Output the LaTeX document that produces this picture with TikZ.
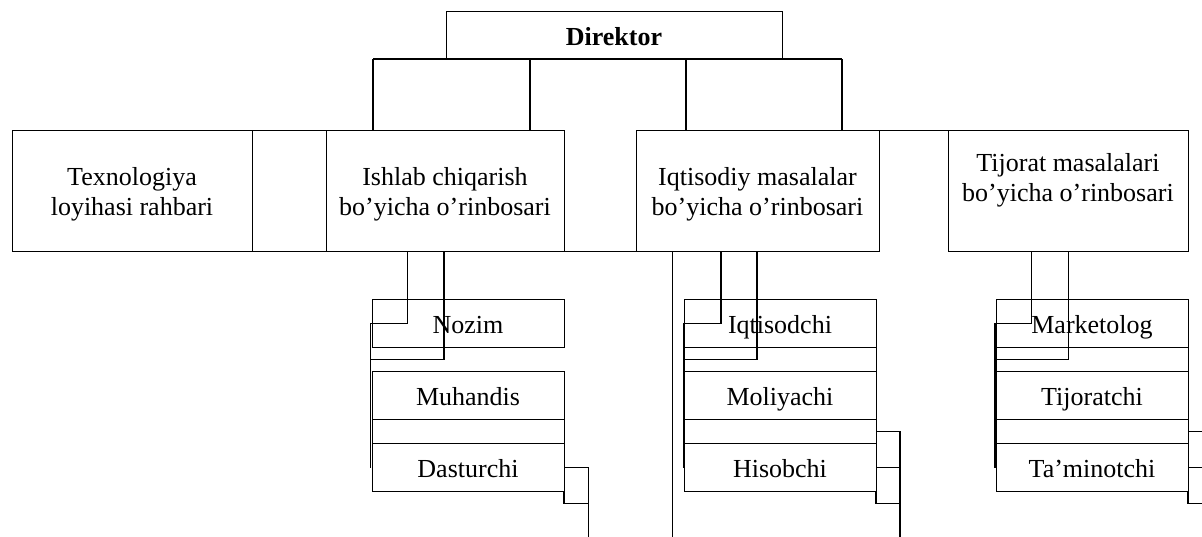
\documentclass[tikz,border=0pt]{standalone}
\usepackage{fontspec}
\setmainfont{Liberation Serif}
\begin{document}
\begin{tikzpicture}[x=1pt,y=-1pt,
  every node/.append style={font=\fontsize{26}{30}\selectfont},
  box/.style={draw, line width=1pt, inner sep=0pt, outer sep=0pt},
  head/.style={box, minimum height=121pt},
  sub/.style={box, minimum width=192pt, minimum height=48pt, text height=20pt, text depth=0pt},
  strip/.style={box, minimum width=192pt, minimum height=24pt},
  caption/.style={align=center, inner sep=0pt},
  wire/.style={line width=1.5pt}
]
\useasboundingbox (0,0) rectangle (1202,536);
\clip (0,0) rectangle (1202,536);

% director
\node[box, minimum width=336pt, minimum height=48pt, text height=20pt, text depth=0pt,
      font=\fontsize{26}{30}\selectfont\bfseries] (dir) at (614,35) {Direktor};

% row of deputies
\node[head, minimum width=240pt] (tex) at (132,190.5) {};
\node[head, minimum width=74pt]  (gap) at (289,190.5) {};
\node[head, minimum width=238pt] (ish) at (445,190.5) {};
\node[head, minimum width=243pt] (iqt) at (757.5,190.5) {};
\node[head, minimum width=240pt] (tij) at (1068,190.5) {};

\node[caption] (tex-c) at ([yshift=-4pt]tex.center) {Texnologiya\\loyihasi rahbari};
\node[caption] (ish-c) at ([yshift=-4pt]ish.center) {Ishlab chiqarish\\bo’yicha o’rinbosari};
\node[caption] (iqt-c) at ([yshift=-4pt]iqt.center) {Iqtisodiy masalalar\\bo’yicha o’rinbosari};
\node[caption] (tij-c) at ([yshift=10pt]tij.center) {Tijorat masalalari\\bo’yicha o’rinbosari};

\draw[box] (ish.south east) -- (iqt.south west);
\draw[box] (iqt.north east) -- (tij.north west);

% bus under the director
\coordinate (b1) at (373,59);
\coordinate (b2) at (530,59);
\coordinate (b3) at (686,59);
\coordinate (b4) at (842,59);
\draw[wire] (b1) -- (b4);
\foreach \b/\t in {b1/ish, b2/ish, b3/iqt, b4/iqt}
  \draw[wire] (\b) -- (\b |- \t.north);

% production staff
\node[sub] (noz) at (468,323) {Nozim};
\node[sub] (muh) at (468,395.5) {Muhandis};
\node[strip] (s-md) at (468,431.3) {};
\node[sub] (das) at (468,467.5) {Dasturchi};

% economics staff
\node[sub] (iqc) at (780,323) {Iqtisodchi};
\node[strip] (s-im) at (780,359.3) {};
\node[sub] (mol) at (780,395.5) {Moliyachi};
\node[strip] (s-mh) at (780,431.3) {};
\node[sub] (his) at (780,467.5) {Hisobchi};

% commerce staff
\node[sub] (mar) at (1092,323) {Marketolog};
\node[strip] (s-mt) at (1092,359.3) {};
\node[sub] (tjr) at (1092,395.5) {Tijoratchi};
\node[strip] (s-tt) at (1092,431.3) {};
\node[sub] (tam) at (1092,467.5) {Ta’minotchi};

% links from the production deputy
\coordinate (ia) at (407.7,323.3);
\coordinate (ib) at (444,359.3);
\coordinate (ic) at (370.7,323.3);
\coordinate (id) at (370.7,359.3);
\coordinate (ie) at (370.7,467.7);
\draw[wire] (ia |- ish.south) -- (ia) -- (ic) -- (ie);
\draw[wire] (ib |- ish.south) -- (ib) -- (id);

% links from the economics deputy
\coordinate (qa) at (721,323.3);
\coordinate (qb) at (757,359.3);
\coordinate (qc) at (684,323.3);
\coordinate (qd) at (684,359.3);
\coordinate (qe) at (684,467.7);
\draw[wire] (qa |- iqt.south) -- (qa) -- (qc) -- (qe);
\draw[wire] (qb |- iqt.south) -- (qb) -- (qd);
\coordinate (qv) at (672.3,545);
\draw[wire] (qv |- iqt.south) -- (qv);

% links from the commerce deputy
\coordinate (ta) at (1031.7,323.3);
\coordinate (tb) at (1068.3,359.3);
\coordinate (tc) at (995,323.3);
\coordinate (td) at (995,359.3);
\coordinate (te) at (995,467.7);
\draw[wire] (ta |- tij.south) -- (ta) -- (tc) -- (te);
\draw[wire] (tb |- tij.south) -- (tb) -- (td);

% right-hand runs
\coordinate (d1) at (588.5,467.5);
\coordinate (d2) at (588.5,503.5);
\coordinate (d3) at (564,503.5);
\coordinate (d4) at (588.5,545);
\draw[wire] (das.east) -- (d1) -- (d4);
\draw[wire] (das.south east) -- (d3) -- (d2);

\coordinate (h1) at (900,431.3);
\coordinate (h2) at (900,467.5);
\coordinate (h3) at (900,503.5);
\coordinate (h4) at (876,503.5);
\coordinate (h5) at (900,545);
\draw[wire] (s-mh.east) -- (h1) -- (h5);
\draw[wire] (his.east) -- (h2);
\draw[wire] (his.south east) -- (h4) -- (h3);

\coordinate (k1) at (1212,431.3);
\coordinate (k2) at (1212,467.5);
\coordinate (k3) at (1212,503.5);
\coordinate (k4) at (1188,503.5);
\coordinate (k5) at (1212,545);
\draw[wire] (s-tt.east) -- (k1) -- (k5);
\draw[wire] (tam.east) -- (k2);
\draw[wire] (tam.south east) -- (k4) -- (k3);
\end{tikzpicture}
\end{document}
